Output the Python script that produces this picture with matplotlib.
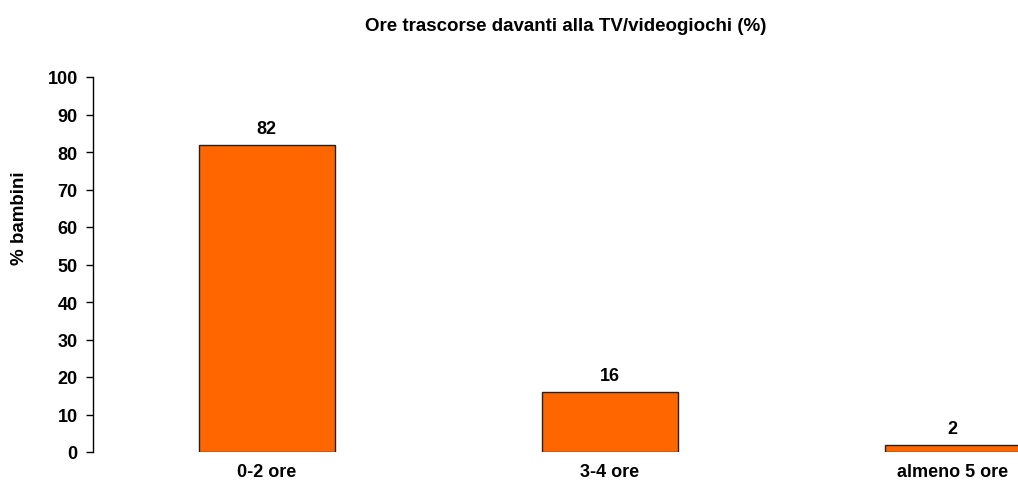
import matplotlib
matplotlib.use("Agg")
import matplotlib.pyplot as plt

categories = ["0-2 ore", "3-4 ore", "almeno 5 ore"]
values = [82, 16, 2]
yticks = [0, 10, 20, 30, 40, 50, 60, 70, 80, 90, 100]
title = "Ore trascorse davanti alla TV/videogiochi (%)"
ylabel = "% bambini"

plt.rcParams['font.family'] = ['Liberation Sans', 'DejaVu Sans']
plt.rcParams['font.weight'] = 'bold'

W, H = 1018, 485
fig = plt.figure(figsize=(W/100, H/100), dpi=100)
left_px, right_px = 93, 1124
bottom_px, top_px = 453, 78
ax = fig.add_axes([left_px/W, (H-bottom_px)/H, (right_px-left_px)/W, (bottom_px-top_px)/H])

x = list(range(len(categories)))
bars = ax.bar(x, values, width=0.397, color="#FF6600", edgecolor="#222222", linewidth=1.0)
ax.set_xlim(-0.507, 2.5)
ax.set_ylim(0, 100)
ax.set_yticks(yticks)
ax.set_yticklabels([str(v) for v in yticks], fontsize=13, fontweight='bold')
ax.set_xticks(x)
ax.set_xticklabels(categories, fontsize=13, fontweight='bold')
ax.tick_params(axis='x', length=0, pad=8)
ax.tick_params(axis='y', length=5, width=1, pad=6, direction='out')
for s in ['top', 'right', 'bottom']:
    ax.spines[s].set_visible(False)
ax.spines['left'].set_linewidth(1)

for xi, v in zip(x, values):
    ax.annotate(str(v), xy=(xi, v), xytext=(0, 8.5), textcoords='offset points',
                ha='center', va='baseline', fontsize=13, fontweight='bold')

fig.text(566/W, (H-31)/H, title, ha='center', va='baseline', fontsize=13.5, fontweight='bold')
fig.text(20/W, (H-218)/H, ylabel, ha='center', va='center', rotation=90, fontsize=13.5, fontweight='bold')

fig.savefig("out.png", dpi=100)
